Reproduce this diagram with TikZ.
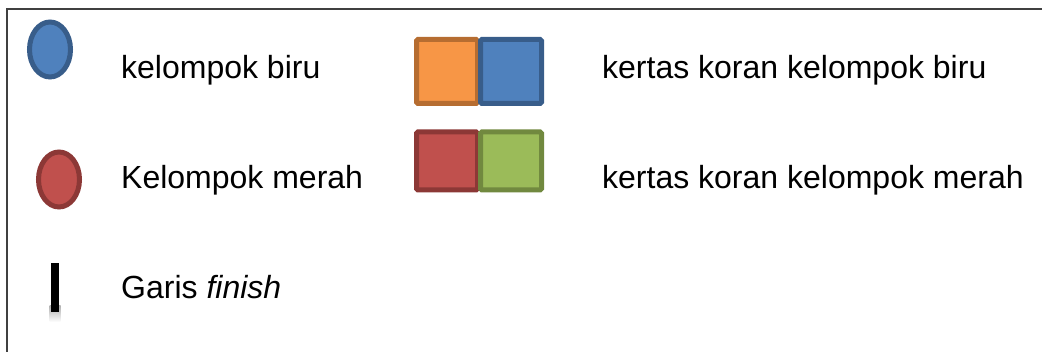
\documentclass[tikz,border=0pt]{standalone}
\usepackage{fontspec}
\setmainfont{Liberation Sans}
\usetikzlibrary{shapes.geometric}
\definecolor{bluefill}{HTML}{4F81BD}\definecolor{blueline}{HTML}{385D8A}
\definecolor{redfill}{HTML}{C0504D}\definecolor{redline}{HTML}{8C3836}
\definecolor{orangefill}{HTML}{F79646}\definecolor{orangeline}{HTML}{B66D31}
\definecolor{greenfill}{HTML}{9BBB59}\definecolor{greenline}{HTML}{71893F}
\tikzset{
  blob/.style={ellipse,line width=5pt,minimum width=41pt,minimum height=55pt,inner sep=0pt},
  tile/.style={rectangle,rounded corners=1.5pt,line width=5pt,minimum width=61pt,inner sep=0pt},
  legendtext/.style={anchor=base west,inner sep=0pt,font=\fontsize{32}{38}\selectfont}
}
\begin{document}
\begin{tikzpicture}[x=1pt,y=-1pt]
  \useasboundingbox (0,0) rectangle (1042,352);
  \draw[line width=1.6pt,black!75] (6.8,352) |- (1042,9.1);
  % left column
  \node[blob,fill=bluefill,draw=blueline] (kb) at (50,49.5) {};
  \node[blob,fill=redfill,draw=redline] (km) at (59,179.5) {};
  \shade[top color=black!30,bottom color=white] (49.5,306) rectangle (60.5,322);
  \fill[black] (51,263) rectangle (59,312);
  \node[legendtext] (tkb) at (121,79) {kelompok biru};
  \node[legendtext] (tkm) at (121,189) {Kelompok merah};
  \node[legendtext] (tgf) at (121,299) {Garis \textit{finish}};
  % right column
  \node[tile,minimum height=64pt,fill=orangefill,draw=orangeline] (ko) at (447,71.5) {};
  \node[tile,minimum height=64pt,fill=bluefill,draw=blueline] (kbb) at (511,71.5) {};
  \node[tile,minimum height=58pt,fill=redfill,draw=redline] (kr) at (447,161) {};
  \node[tile,minimum height=58pt,fill=greenfill,draw=greenline] (kg) at (511,161) {};
  \node[legendtext] (tkob) at (602,79) {kertas koran kelompok biru};
  \node[legendtext] (tkom) at (602,189) {kertas koran kelompok merah};
\end{tikzpicture}
\end{document}
